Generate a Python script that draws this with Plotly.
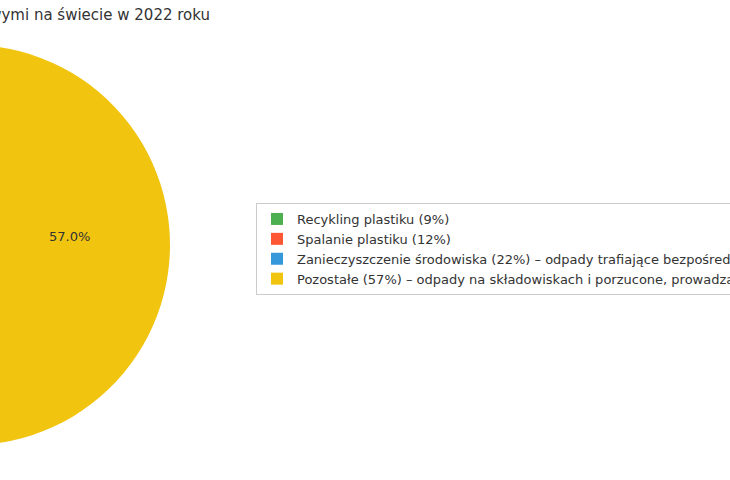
import plotly.graph_objects as go

labels = [
    "Recykling plastiku (9%)",
    "Spalanie plastiku (12%)",
    "Zanieczyszczenie środowiska (22%) – odpady trafiające bezpośrednio do środowiska",
    "Pozostałe (57%) – odpady na składowiskach i porzucone, prowadzące do zanieczyszczeń",
]
values = [9, 12, 22, 57]
colors = ["#4CAF50", "#FF5733", "#3498DB", "#F1C40F"]
title = "Gospodarka odpadami plastikowymi na świecie w 2022 roku"

W, H = 1300, 480
shift = 270  # the reference shows only a window of the wider figure

fig = go.Figure(go.Pie(
    labels=labels, values=values, sort=False,
    direction="counterclockwise", rotation=-50,
    marker=dict(colors=colors),
    texttemplate="%{percent:.1%}", textposition="inside",
    insidetextorientation="horizontal",
    textfont=dict(color="#333333", size=13),
    domain=dict(x=[40 / W, 440 / W], y=[1 - 445 / H, 1 - 45 / H]),
    hoverinfo="label+percent",
))

fig.update_layout(
    width=W, height=H, autosize=False,
    margin=dict(l=0, r=0, t=0, b=0),
    paper_bgcolor="white",
    font=dict(family="DejaVu Sans", color="#333333"),
    title=dict(text=title, x=480 / W, xanchor="right", xref="paper",
               y=1 - 15 / H, yanchor="middle", font=dict(size=15, color="#333333")),
    legend=dict(x=526 / W, xanchor="left", y=1 - 249 / H, yanchor="middle",
                bordercolor="#cccccc", borderwidth=1, bgcolor="white",
                font=dict(size=13, color="#333333"), tracegroupgap=0),
)

post = ("document.body.style.margin='0';document.body.style.overflow='hidden';"
        "var d=document.getElementById('{plot_id}');"
        "d.style.position='absolute';d.style.top='0px';d.style.left='-%dpx';" % shift)
fig.write_html("out.html", post_script=post,
               config={"displayModeBar": False, "responsive": False})
